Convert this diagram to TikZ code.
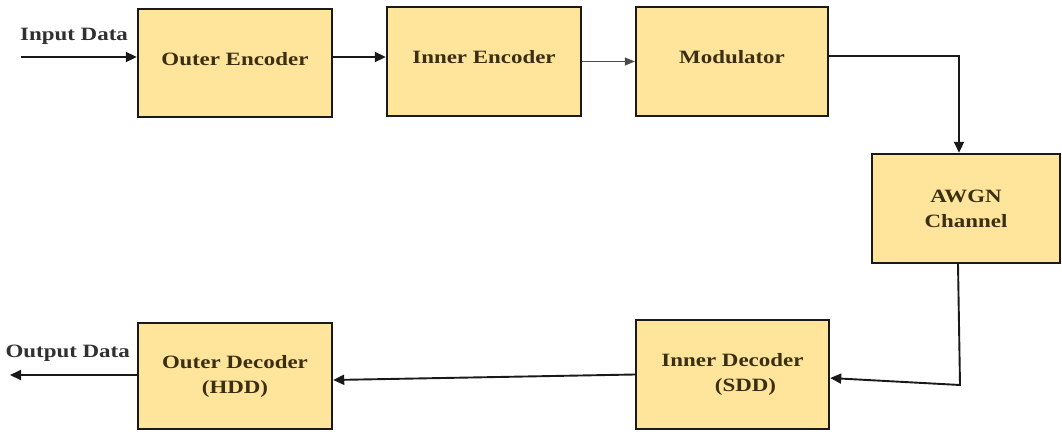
\documentclass[tikz,border=0pt]{standalone}
\usepackage{fontspec}
\setmainfont{Liberation Serif}[FakeStretch=1.22]
\usetikzlibrary{arrows.meta}
\definecolor{boxfill}{HTML}{FFE49B}
\definecolor{boxtext}{HTML}{3A2F12}
\definecolor{labeltext}{HTML}{303030}
\begin{document}
\begin{tikzpicture}[x=1pt,y=-1pt,
  block/.style={draw=black!90, line width=2.4pt, fill=boxfill, text=boxtext,
    font=\fontsize{18.8}{25}\selectfont\bfseries, align=center, inner sep=0pt},
  oneline/.style={text depth=8.6pt},
  flow/.style={line width=1.9pt, draw=black!90, -{Triangle[length=11pt,width=10pt]}},
  thinflow/.style={line width=1.1pt, draw=black!70, -{Triangle[length=10pt,width=8pt]}},
  iolabel/.style={text=labeltext, font=\fontsize{18.8}{22}\selectfont\bfseries, inner sep=0pt}
]
\useasboundingbox (0,0) rectangle (1062,431);
\clip (0,0) rectangle (1062,431);
\fill[white] (0,0) rectangle (1062,431);

% encoder chain
\node[block, oneline, minimum width=194pt, minimum height=108pt] (oe) at (235,63) {Outer Encoder};
\node[block, oneline, minimum width=194pt, minimum height=109pt] (ie) at (484,61.5) {Inner Encoder};
\node[block, oneline, minimum width=192pt, minimum height=109pt] (mod) at (732,61.5) {Modulator};
% channel
\node[block, minimum width=188pt, minimum height=109pt] (awgn) at (966,208.5) {AWGN\\Channel};
% decoder chain
\node[block, minimum width=193pt, minimum height=109pt] (id) at (732.5,374.5) {Inner Decoder\\\hspace*{26pt}(SDD)};
\node[block, minimum width=194pt, minimum height=106pt] (od) at (235,376) {Outer Decoder\\(HDD)};

% input / output
\node[iolabel, anchor=base west] (inl) at (20,40) {Input Data};
\node[iolabel, anchor=base east] (outl) at (130,357) {Output Data};
\coordinate (src) at (21,57);
\coordinate (sink) at (10,375);
\coordinate (turn) at (960,385);

\draw[flow] (src) -- ([yshift=6pt]oe.west);
\draw[flow] ([yshift=6pt]oe.east) -- ([yshift=4.5pt]ie.west);
\draw[thinflow] (ie.east) -- (mod.west);
\draw[flow] ([yshift=5.5pt]mod.east) -| ([xshift=-7pt]awgn.north);
\draw[flow] ([xshift=-8pt]awgn.south) -- (turn) -- ([yshift=-3.5pt]id.east);
\draw[flow] (id.west) -- ([yshift=-4pt]od.east);
\draw[flow] ([yshift=1pt]od.west) -- (sink);
\end{tikzpicture}
\end{document}
